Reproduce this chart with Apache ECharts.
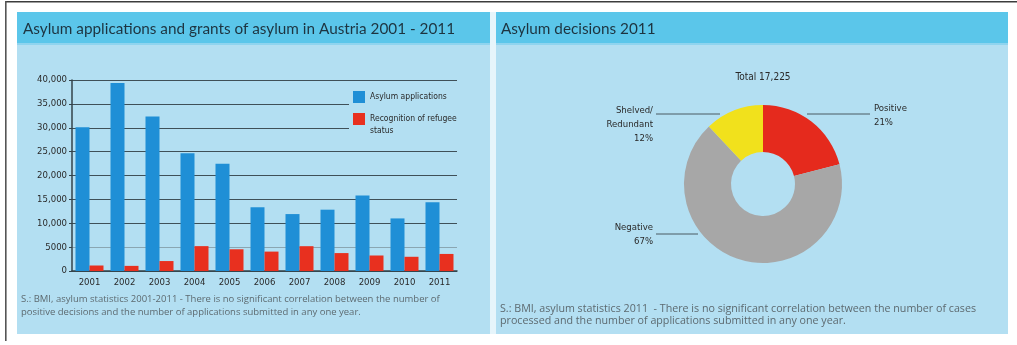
<!DOCTYPE html>
<html><head><meta charset="utf-8">
<script src="https://cdn.jsdelivr.net/npm/echarts@6/dist/echarts.min.js"></script>
<style>html,body{margin:0;padding:0;background:#fff}#c{width:1017px;height:345px}</style>
</head><body><div id="c"></div>
<script>
// ---- data ----
const years = ['2001','2002','2003','2004','2005','2006','2007','2008','2009','2010','2011'];
const asylumApplications = [30127, 39354, 32359, 24634, 22461, 13349, 11921, 12841, 15821, 11012, 14416];
const refugeeRecognitions = [1152, 1073, 2084, 5208, 4552, 4063, 5197, 3753, 3247, 2977, 3572];
const yTickLabels = ['0','5000','10,000','15,000','20,000','25,000','30,000','35,000','40,000'];
const decisionNames = ['Positive', 'Negative', 'Shelved/\nRedundant'];
const decisionPercents = [21, 67, 12];
const totalDecisions = '17,225';
const seriesNames = ['Asylum applications', 'Recognition of refugee\nstatus'];
const leftTitle = 'Asylum applications and grants of asylum in Austria 2001 - 2011';
const rightTitle = 'Asylum decisions 2011';
const leftNote = ['S.: BMI, asylum statistics 2001-2011 - There is no significant correlation between the number of',
                  'positive decisions and the number of applications submitted in any one year.'];
const rightNote = ['S.: BMI, asylum statistics 2011  - There is no significant correlation between the number of cases',
                   'processed and the number of applications submitted in any one year.'];

// ---- styling ----
const NARROW = "'Liberation Sans Narrow','DejaVu Sans Condensed','Roboto',sans-serif";
const HEAD = "'Lato','Open Sans',sans-serif";
const NOTE = "'Open Sans','Lato',sans-serif";
const PANEL_BG = '#b3dff2', HEAD_BG = '#5bc6ea';
const cx = 763, cy = 184, R = 79, r = 32;

const chart = echarts.init(document.getElementById('c'));

const graphic = [
  {type:'rect', zlevel:-1, shape:{x:5,y:1,width:1012,height:1.6}, style:{fill:'#3c3c3c'}},
  {type:'rect', zlevel:-1, shape:{x:5,y:1,width:1.6,height:340}, style:{fill:'#555'}},
  // left panel
  {type:'rect', zlevel:-1, shape:{x:17,y:43,width:473,height:291}, style:{fill:PANEL_BG}},
  {type:'rect', zlevel:-1, shape:{x:17,y:12,width:473,height:31}, style:{fill:HEAD_BG}},
  {type:'rect', zlevel:-1, shape:{x:17,y:43,width:473,height:2}, style:{fill:'#8fd4ef'}},
  // right panel
  {type:'rect', zlevel:-1, shape:{x:496,y:43,width:512,height:291}, style:{fill:PANEL_BG}},
  {type:'rect', zlevel:-1, shape:{x:496,y:12,width:512,height:31}, style:{fill:HEAD_BG}},
  {type:'rect', zlevel:-1, shape:{x:496,y:43,width:512,height:2}, style:{fill:'#8fd4ef'}},
  {type:'rect', zlevel:-1, shape:{x:490,y:12,width:6,height:322}, style:{fill:'#e6f5fb'}},
  // titles
  {type:'text', x:23, y:29, style:{text:leftTitle, fill:'#1d3440', font:"15.3px " + HEAD, verticalAlign:'middle'}},
  {type:'text', x:501, y:29, style:{text:rightTitle, fill:'#1d3440', font:"15.3px " + HEAD, verticalAlign:'middle'}},
  // notes
  {type:'text', x:21, y:299, style:{text:leftNote[0], fill:'#5d6a70', font:"9.5px " + NOTE, verticalAlign:'middle'}},
  {type:'text', x:21, y:312, style:{text:leftNote[1], fill:'#5d6a70', font:"9.5px " + NOTE, verticalAlign:'middle'}},
  {type:'text', x:500, y:309, style:{text:rightNote[0], fill:'#5d6a70', font:"10.7px " + NOTE, verticalAlign:'middle'}},
  {type:'text', x:500, y:321, style:{text:rightNote[1], fill:'#5d6a70', font:"10.7px " + NOTE, verticalAlign:'middle'}},
  // total
  {type:'text', x:cx, y:77, style:{text:'Total ' + totalDecisions, fill:'#2a2a2a', font:"10px " + NARROW, align:'center', verticalAlign:'middle'}}
];

const gridLineColors = ['#3f5058','#8aa6b2','#3f5058','#3f5058','#3f5058','#3f5058','#3f5058','#3f5058','#3f5058'];

const option = {
  animation:false,
  backgroundColor:'#ffffff',
  graphic: graphic,
  grid:{left:72, top:80, width:385, height:191, containLabel:false},
  legend:{
    orient:'vertical', left:349, top:87, itemWidth:12, itemHeight:12, itemGap:-2, icon:'rect',
    backgroundColor: PANEL_BG, padding:[4,2,8,4],
    textStyle:{fontFamily:NARROW, fontSize:8.5, color:'#2a2a2a', lineHeight:12},
    formatter:(n)=> n === seriesNames[1] ? '\n' + n : n,
    data:[seriesNames[0], seriesNames[1]]
  },
  xAxis:{
    type:'category', data:years,
    axisLine:{lineStyle:{color:'#33434a', width:1.5}},
    axisTick:{show:false},
    axisLabel:{fontFamily:NARROW, fontSize:9.5, color:'#2a2a2a', margin:7}
  },
  yAxis:{
    type:'value', min:0, max:40000, interval:5000,
    axisLine:{show:true, lineStyle:{color:'#33434a', width:1.5}},
    axisTick:{show:true, length:3, lineStyle:{color:'#33434a'}},
    splitLine:{lineStyle:{color:gridLineColors, width:1}},
    axisLabel:{fontFamily:NARROW, fontSize:9.5, color:'#2a2a2a', margin:5,
      formatter:(v)=>yTickLabels[Math.round(v/5000)]}
  },
  series:[
    {name:seriesNames[0], type:'bar', data:asylumApplications, barGap:'0%', barCategoryGap:'20%',
     itemStyle:{color:'#1f8fd6'}},
    {name:seriesNames[1], type:'bar', data:refugeeRecognitions,
     itemStyle:{color:'#e8301f'}},
    {type:'pie', center:[cx,cy], radius:[r,R], startAngle:90, clockwise:true,
     data: decisionNames.map((n,i)=>({name:n, value:decisionPercents[i],
        itemStyle:{color:['#e52a1d','#a7a7a7','#f1e11c'][i]}})),
     label:{show:true, formatter:'{b}\n{c}%', fontFamily:NARROW, fontSize:9.5, lineHeight:14, color:'#2a2a2a'},
     labelLine:{show:true, lineStyle:{color:'#4b5b63', width:1}},
     emphasis:{disabled:true},
     labelLayout:function(p){
       const i = p.dataIndex;
       if(i===0) return {x:cx+111, y:cy-68, align:'left', verticalAlign:'middle',
          labelLinePoints:[[cx+44,cy-70],[cx+107,cy-70],[cx+107,cy-70]]};
       if(i===1) return {x:cx-110, y:cy+51, align:'right', verticalAlign:'middle',
          labelLinePoints:[[cx-65,cy+50],[cx-107,cy+50],[cx-107,cy+50]]};
       return {x:cx-110, y:cy-59, align:'right', verticalAlign:'middle',
          labelLinePoints:[[cx-43,cy-70],[cx-107,cy-70],[cx-107,cy-70]]};
     }
    }
  ]
};
chart.setOption(option);
</script>
</body></html>
